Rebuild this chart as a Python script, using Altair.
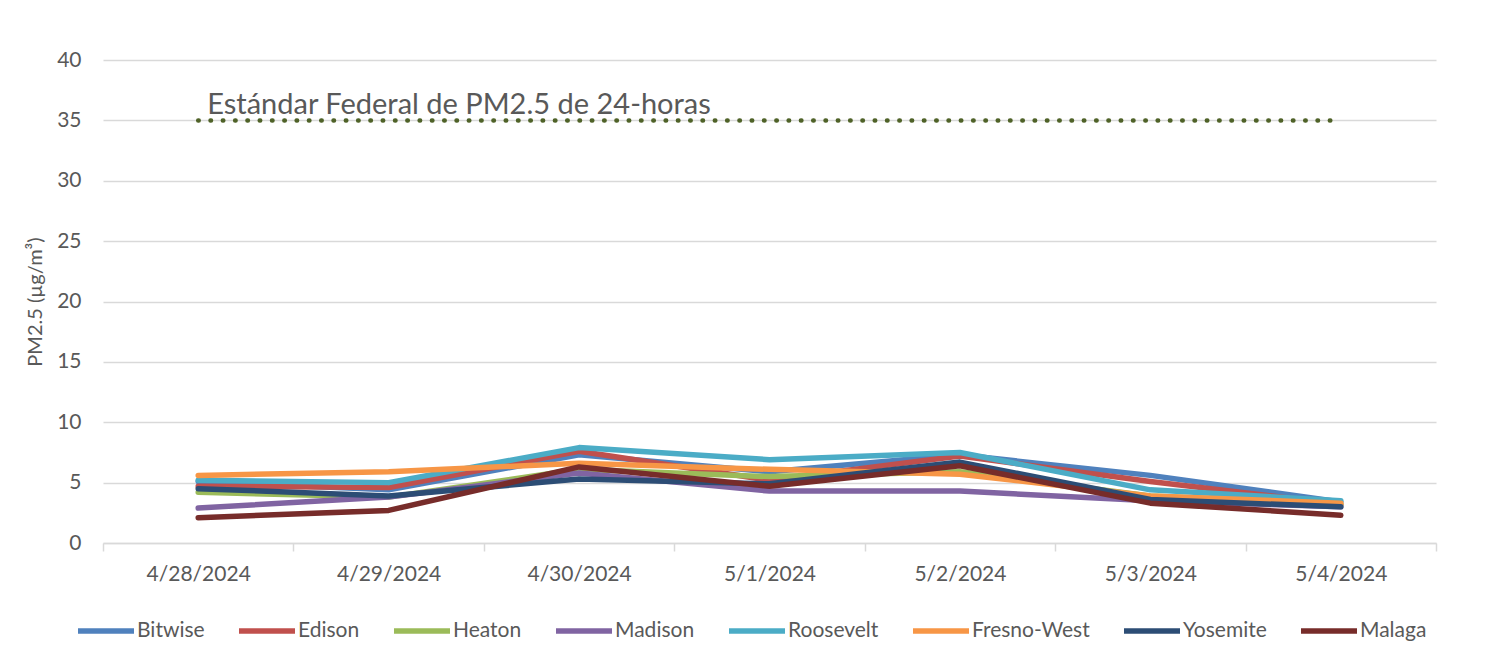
import altair as alt
import pandas as pd

dates = ["4/28/2024", "4/29/2024", "4/30/2024", "5/1/2024", "5/2/2024", "5/3/2024", "5/4/2024"]
series_names = ["Bitwise", "Edison", "Heaton", "Madison", "Roosevelt", "Fresno-West", "Yosemite", "Malaga"]
colors = ["#4F81BD", "#C0504D", "#9BBB59", "#8064A2", "#4BACC6", "#F79646", "#2C4D75", "#772C2A"]

bitwise = [5.1, 4.4, 7.3, 5.9, 7.3, 5.6, 3.4]
edison = [4.7, 4.6, 7.6, 5.2, 7.2, 5.1, 3.2]
heaton = [4.2, 3.8, 6.1, 5.5, 5.9, 3.9, 3.2]
madison = [2.9, 3.8, 5.8, 4.3, 4.3, 3.5, 3.0]
roosevelt = [5.2, 5.0, 7.9, 6.9, 7.5, 4.4, 3.5]
fresno_west = [5.6, 5.9, 6.6, 6.1, 5.7, 3.9, 3.3]
yosemite = [4.5, 3.9, 5.3, 4.9, 6.7, 3.6, 3.0]
malaga = [2.1, 2.7, 6.3, 4.7, 6.4, 3.3, 2.3]

standard = [35, 35, 35, 35, 35, 35, 35]
standard_label = "Estándar Federal de PM2.5 de 24-horas"

all_series = [bitwise, edison, heaton, madison, roosevelt, fresno_west, yosemite, malaga]

rows = []
for i, (name, vals) in enumerate(zip(series_names, all_series)):
    for d, v in zip(dates, vals):
        rows.append({"date": d, "value": v, "station": name, "order": i})
df = pd.DataFrame(rows)

std_df = pd.DataFrame({"date": dates, "value": standard})
lbl_df = pd.DataFrame({"date": [dates[0]], "value": [standard[0]], "label": [standard_label]})

FONT = "Lato"
GREY = "#595959"

x_enc = alt.X(
    "date:N",
    sort=dates,
    scale=alt.Scale(type="band", domain=dates, paddingInner=0, paddingOuter=0),
    axis=alt.Axis(
        title=None,
        labelAngle=0,
        labelAlign="center",
        tickBand="extent",
        bandPosition=0.5,
        domainColor="#D9D9D9",
        tickColor="#D9D9D9",
        tickSize=8,
        domainWidth=1.5,
        tickWidth=1.5,
        labelPadding=23,
        grid=False,
    ),
)

y_scale = alt.Scale(domain=[0, 40], nice=False)
y_axis = alt.Axis(
    title="PM2.5 (µg/m³)",
    values=[0, 5, 10, 15, 20, 25, 30, 35, 40],
    domain=False,
    ticks=False,
    gridColor="#D9D9D9",
    gridWidth=1.5,
    labelPadding=22,
    titlePadding=11,
)

lines = alt.Chart(df).mark_line(strokeWidth=5.5, strokeCap="round", strokeJoin="round").encode(
    x=x_enc,
    y=alt.Y("value:Q", scale=y_scale, axis=y_axis),
    color=alt.Color(
        "station:N",
        sort=series_names,
        scale=alt.Scale(domain=series_names, range=colors),
        legend=alt.Legend(
            title=None,
            orient="none",
            direction="horizontal",
            legendX=-28,
            legendY=540,
            symbolType="stroke",
            symbolSize=3136,
            symbolStrokeWidth=5.5,
            labelFontSize=21,
            labelColor=GREY,
            labelFont=FONT,
            labelOffset=0,
            columnPadding=23,
            labelLimit=300,
        ),
    ),
    order=alt.Order("order:Q"),
)

std_line = alt.Chart(std_df).mark_line(
    strokeWidth=4.5, strokeCap="round", strokeDash=[0.5, 11.8], color="#4F6228"
).encode(
    x=alt.X("date:N", sort=dates),
    y=alt.Y("value:Q"),
)

std_text = alt.Chart(lbl_df).mark_text(
    align="left", baseline="alphabetic", dx=9, dy=-6, fontSize=29, font=FONT, color=GREY
).encode(
    x=alt.X("date:N", sort=dates),
    y=alt.Y("value:Q"),
    text="label:N",
)

chart = (
    alt.layer(std_line, lines, std_text)
    .properties(
        width=1333,
        height=483,
        autosize=alt.AutoSizeParams(type="none"),
        padding={"left": 95, "top": 52, "right": 40, "bottom": 112},
        background="white",
    )
    .configure_view(stroke=None)
    .configure_axis(labelFont=FONT, labelFontSize=21, labelColor=GREY, titleFont=FONT, titleFontSize=20, titleColor=GREY, titleFontWeight="normal")
)

chart.save("out.html", embed_options={"renderer": "svg", "actions": False})
